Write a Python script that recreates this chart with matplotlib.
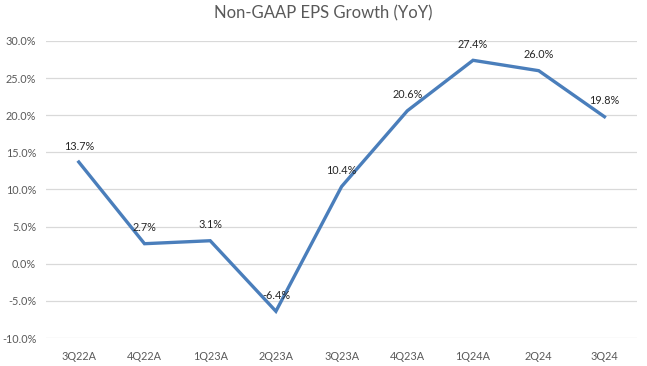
import matplotlib.pyplot as plt
from matplotlib.ticker import FuncFormatter

quarters = ['3Q22A', '4Q22A', '1Q23A', '2Q23A', '3Q23A', '4Q23A', '1Q24A', '2Q24', '3Q24']
eps_growth = [13.7, 2.7, 3.1, -6.4, 10.4, 20.6, 27.4, 26.0, 19.8]

plt.rcParams['font.family'] = ['Lato', 'DejaVu Sans']

fig = plt.figure(figsize=(6.47, 3.66), dpi=100)
ax = fig.add_axes([0.071, 0.0765, 0.914, 0.8115])

x = list(range(len(quarters)))
ax.plot(x, eps_growth, color='#4A7EBB', linewidth=2.4, solid_joinstyle='miter')

for xi, v in zip(x, eps_growth):
    ax.annotate(f'{v:.1f}%', (xi, v), xytext=(0, 7.5), textcoords='offset points',
                ha='center', va='bottom', fontsize=7.8, color='#262626')

ax.set_xlim(-0.5, len(quarters) - 0.5)
ax.set_ylim(-10, 30)
ax.set_yticks(range(-10, 31, 5))
ax.yaxis.set_major_formatter(FuncFormatter(lambda v, p: f'{v:.1f}%'))
ax.set_xticks(x)
ax.set_xticklabels(quarters)

ax.grid(axis='y', color='#D9D9D9', linewidth=0.9)
ax.set_axisbelow(True)
for s in ax.spines.values():
    s.set_visible(False)
ax.tick_params(length=0, labelsize=7.8, labelcolor='#595959')
ax.tick_params(axis='x', pad=9)
ax.tick_params(axis='y', pad=7)

fig.suptitle('Non-GAAP EPS Growth (YoY)', y=0.985, fontsize=12, color='#595959')

fig.savefig('out.png', dpi=100)
